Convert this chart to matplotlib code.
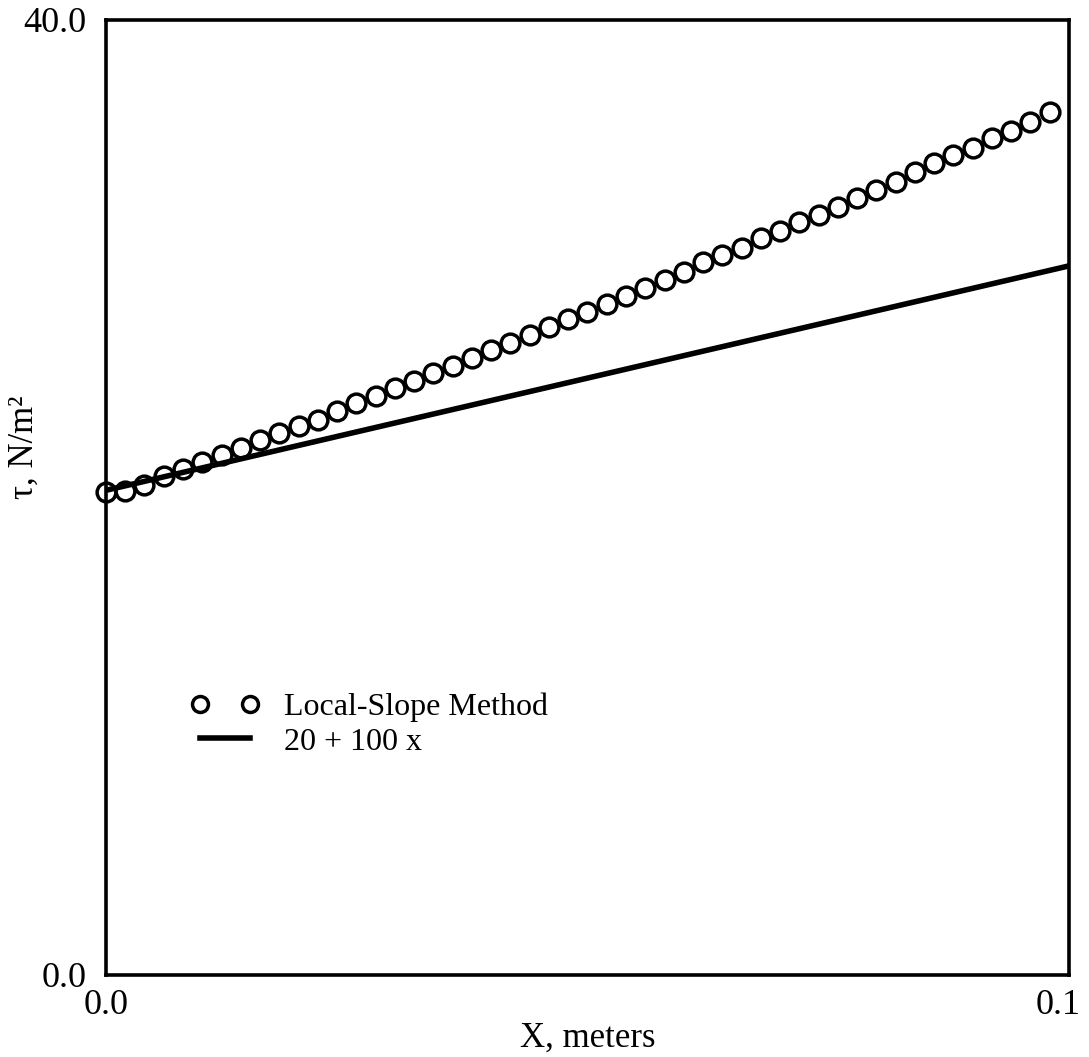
import matplotlib
matplotlib.use('Agg')
import matplotlib.pyplot as plt
from matplotlib.transforms import ScaledTranslation

plt.rcParams['font.family'] = ['Liberation Serif', 'DejaVu Serif']

# local-slope estimates of wall shear stress
x_pts = [0.000, 0.002, 0.004, 0.006, 0.008, 0.010, 0.012, 0.014, 0.016, 0.018,
         0.020, 0.022, 0.024, 0.026, 0.028, 0.030, 0.032, 0.034, 0.036, 0.038,
         0.040, 0.042, 0.044, 0.046, 0.048, 0.050, 0.052, 0.054, 0.056, 0.058,
         0.060, 0.062, 0.064, 0.066, 0.068, 0.070, 0.072, 0.074, 0.076, 0.078,
         0.080, 0.082, 0.084, 0.086, 0.088, 0.090, 0.092, 0.094, 0.096, 0.098]
tau_pts = [20.23, 20.27, 20.52, 20.90, 21.21, 21.49, 21.78, 22.07, 22.41, 22.70,
           23.00, 23.25, 23.62, 23.96, 24.25, 24.57, 24.88, 25.23, 25.51, 25.86,
           26.18, 26.48, 26.81, 27.15, 27.46, 27.78, 28.11, 28.44, 28.76, 29.11,
           29.46, 29.86, 30.15, 30.46, 30.86, 31.16, 31.55, 31.83, 32.18, 32.53,
           32.88, 33.23, 33.62, 34.00, 34.35, 34.65, 35.04, 35.35, 35.74, 36.13]

# exact line 20 + 100 x (as drawn)
x_line = [0.0, 0.1]
tau_line = [20.3, 29.7]

fig = plt.figure(figsize=(10.89, 10.57), dpi=100)
ax = fig.add_axes([0.0973, 0.0776, 0.8843, 0.9035])

ax.plot(x_line, tau_line, '-', color='black', lw=4, label='20 + 100 x', zorder=2)
ax.plot(x_pts, tau_pts, 'o', ms=13.5, mfc='none', mec='black', mew=2.5,
        label='Local-Slope Method', zorder=3, clip_on=False)

ax.set_xlim(0, 0.1)
ax.set_ylim(0, 40)
ax.set_xticks([0.0, 0.1])
ax.set_xticklabels(['0.0', '0.1'])
ax.set_yticks([0.0, 40.0])
ax.set_yticklabels(['0.0', '40.0'])
ax.tick_params(length=0, labelsize=26)
ax.tick_params(axis='x', pad=10)
ax.tick_params(axis='y', pad=14)

# pull the right tick label back inside the figure
lab = ax.get_xticklabels()[1]
lab.set_transform(lab.get_transform() + ScaledTranslation(-0.11, 0, fig.dpi_scale_trans))

for s in ax.spines.values():
    s.set_linewidth(2.6)

ax.set_xlabel('X, meters', fontsize=25, labelpad=0)
ax.set_ylabel('τ, N/m²', fontsize=25)
ax.yaxis.set_label_coords(-0.068, 0.553)

handles, labels = ax.get_legend_handles_labels()
leg = ax.legend(handles[::-1], labels[::-1], loc='upper left',
                bbox_to_anchor=(0.0715, 0.312), frameon=False, fontsize=23,
                numpoints=2, markerscale=0.85, handlelength=2.16,
                handletextpad=0.75, labelspacing=0.15, borderpad=0)

fig.savefig('out.png', dpi=100)
